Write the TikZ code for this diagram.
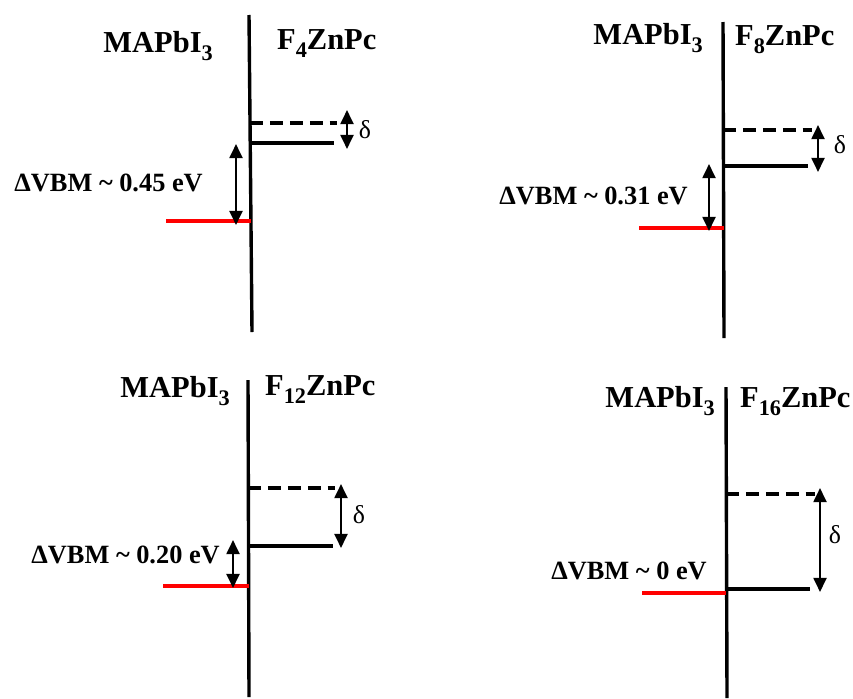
\documentclass[tikz,border=0pt]{standalone}
\usepackage{fontspec}
\setmainfont{Liberation Serif}
\usetikzlibrary{arrows.meta,positioning}

\newcommand\lowsub[1]{\raisebox{-7pt}{\fontsize{19}{19}\selectfont #1}}

\tikzset{
  iface/.style={line width=2.9pt},
  level/.style={line width=2.8pt},
  homo/.style={level, dash pattern=on 11pt off 6pt},
  vbmline/.style={level, red},
  gap/.style={line width=2pt, {Triangle[length=12pt,width=11pt]}-{Triangle[length=12pt,width=11pt]}},
  title/.style={inner sep=0pt, font=\fontsize{26}{30}\selectfont\bfseries},
  vbmlabel/.style={inner sep=0pt, anchor=base east, font=\fontsize{22.5}{26}\selectfont\bfseries},
  deltalabel/.style={inner sep=0pt, font=\fontsize{22}{26}\selectfont}
}

\begin{document}
\begin{tikzpicture}[x=0.03cm, y=-0.03cm]
\useasboundingbox (0,0) rectangle (853,698);

% F4ZnPc
\coordinate (a-top) at (249,15);
\coordinate (a-bot) at (252,332);
\coordinate (a-homo) at (250,123);
\coordinate (a-homoend) at (337,123);
\coordinate (a-vbm) at (250,143);
\coordinate (a-vbmend) at (334,143);
\coordinate (a-red) at (251,221);
\coordinate (a-redstart) at (166,221);
\coordinate (a-d1) at (347,110);
\coordinate (a-d2) at (347,149);
\coordinate (a-v1) at (236,144);
\coordinate (a-v2) at (236,225);
\node [title, anchor=base east] (a-mapbi) at (213,52) {MAPbI\lowsub{3}};
\node [title, anchor=base west] (a-pc) at (277,49) {F\lowsub{4}ZnPc};
\node [vbmlabel] (a-lab) at (203,191) {ΔVBM \textasciitilde\ 0.45 eV};
\node [deltalabel] (a-delta) at (365,130) {δ};

\draw [iface] (a-top) -- (a-bot);
\draw [homo] (a-homo) -- (a-homoend);
\draw [level] (a-vbm) -- (a-vbmend);
\draw [vbmline] (a-redstart) -- (a-red);
\draw [gap] (a-d1) -- (a-d2);
\draw [gap] (a-v1) -- (a-v2);

% F8ZnPc
\coordinate (b-top) at (723,22);
\coordinate (b-bot) at (724,338);
\coordinate (b-homo) at (723,130);
\coordinate (b-homoend) at (812,130);
\coordinate (b-vbm) at (723,166);
\coordinate (b-vbmend) at (808,166);
\coordinate (b-red) at (724,228);
\coordinate (b-redstart) at (639,228);
\coordinate (b-d1) at (818,125);
\coordinate (b-d2) at (818,172);
\coordinate (b-v1) at (709,164);
\coordinate (b-v2) at (709,231);
\node [title, anchor=base east] (b-mapbi) at (703,44) {MAPbI\lowsub{3}};
\node [title, anchor=base west] (b-pc) at (735,45) {F\lowsub{8}ZnPc};
\node [vbmlabel] (b-lab) at (688,204) {ΔVBM \textasciitilde\ 0.31 eV};
\node [deltalabel] (b-delta) at (840,145) {δ};

\draw [iface] (b-top) -- (b-bot);
\draw [homo] (b-homo) -- (b-homoend);
\draw [level] (b-vbm) -- (b-vbmend);
\draw [vbmline] (b-redstart) -- (b-red);
\draw [gap] (b-d1) -- (b-d2);
\draw [gap] (b-v1) -- (b-v2);

% F12ZnPc
\coordinate (c-top) at (248,380);
\coordinate (c-bot) at (249,697);
\coordinate (c-homo) at (248,488);
\coordinate (c-homoend) at (335,488);
\coordinate (c-vbm) at (248,546);
\coordinate (c-vbmend) at (333,546);
\coordinate (c-red) at (249,586);
\coordinate (c-redstart) at (163,586);
\coordinate (c-d1) at (341,484);
\coordinate (c-d2) at (341,548);
\coordinate (c-v1) at (233,540);
\coordinate (c-v2) at (233,588);
\node [title, anchor=base east] (c-mapbi) at (230,397) {MAPbI\lowsub{3}};
\node [title, anchor=base west] (c-pc) at (265,395) {F\lowsub{12}ZnPc};
\node [vbmlabel] (c-lab) at (220,563) {ΔVBM \textasciitilde\ 0.20 eV};
\node [deltalabel] (c-delta) at (359,515) {δ};

\draw [iface] (c-top) -- (c-bot);
\draw [homo] (c-homo) -- (c-homoend);
\draw [level] (c-vbm) -- (c-vbmend);
\draw [vbmline] (c-redstart) -- (c-red);
\draw [gap] (c-d1) -- (c-d2);
\draw [gap] (c-v1) -- (c-v2);

% F16ZnPc
\coordinate (d-top) at (726,387);
\coordinate (d-bot) at (727,698);
\coordinate (d-homo) at (726,494);
\coordinate (d-homoend) at (815,494);
\coordinate (d-vbm) at (726,589);
\coordinate (d-vbmend) at (810,589);
\coordinate (d-red) at (726,593);
\coordinate (d-redstart) at (642,593);
\coordinate (d-d1) at (820,488);
\coordinate (d-d2) at (820,592);
\node [title, anchor=base east] (d-mapbi) at (715,407) {MAPbI\lowsub{3}};
\node [title, anchor=base west] (d-pc) at (740,407) {F\lowsub{16}ZnPc};
\node [vbmlabel] (d-lab) at (707,579) {ΔVBM \textasciitilde\ 0 eV};
\node [deltalabel] (d-delta) at (835,535) {δ};

\draw [iface] (d-top) -- (d-bot);
\draw [homo] (d-homo) -- (d-homoend);
\draw [level] (d-vbm) -- (d-vbmend);
\draw [vbmline] (d-redstart) -- (d-red);
\draw [gap] (d-d1) -- (d-d2);

\end{tikzpicture}
\end{document}
